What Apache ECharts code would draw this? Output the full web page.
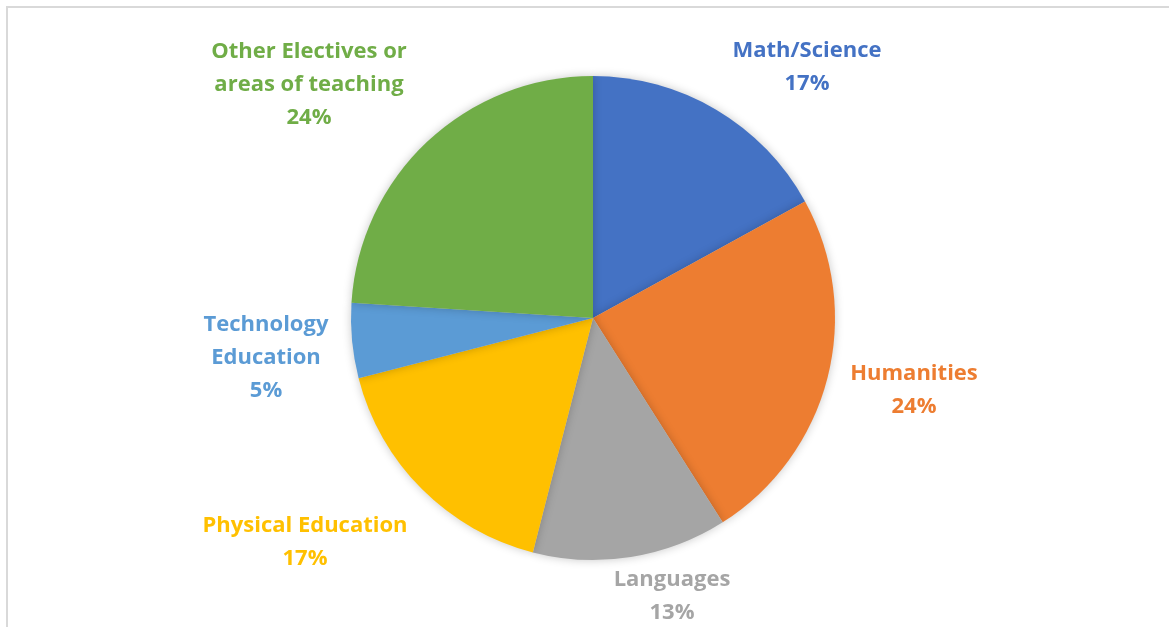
<!DOCTYPE html>
<html>
<head>
<meta charset="utf-8">
<title>Teaching areas</title>
<script src="https://cdn.jsdelivr.net/npm/echarts@6/dist/echarts.min.js"></script>
<style>
  html, body { margin: 0; padding: 0; background: #fff; }
  #chart { width: 1169px; height: 627px; }
</style>
</head>
<body>
<div id="chart"></div>
<script>
// Share of teachers by area of teaching (percent)
const categories = [
  'Math/Science',
  'Humanities',
  'Languages',
  'Physical Education',
  'Technology\nEducation',
  'Other Electives or\nareas of teaching'
];
const values = [17, 24, 13, 17, 5, 24];
const colors = ['#4472C4', '#ED7D31', '#A5A5A5', '#FFC000', '#5B9BD5', '#70AD47'];

// Label anchor points (label centres, in pixels)
const labelSpots = [
  [807, 67],
  [914, 390],
  [672, 596],
  [305, 542],
  [266, 358],
  [309, 85]
];

const chart = echarts.init(document.getElementById('chart'));
chart.setOption({
  animation: false,
  graphic: [{
    type: 'rect',
    shape: { x: 7, y: 7, width: 1200, height: 660 },
    style: { fill: 'none', stroke: '#d9d9d9', lineWidth: 2 },
    silent: true
  }],
  series: [{
    type: 'pie',
    center: [593, 318],
    radius: [0, 242],
    startAngle: 90,
    clockwise: true,
    data: categories.map((name, i) => ({
      name: name,
      value: values[i],
      itemStyle: { color: colors[i] },
      label: { color: colors[i] }
    })),
    itemStyle: {
      borderWidth: 0,
      shadowBlur: 10,
      shadowColor: 'rgba(0,0,0,0.22)',
      shadowOffsetY: 0
    },
    label: {
      show: true,
      position: 'outside',
      formatter: p => p.name + '\n' + p.value + '%',
      fontFamily: '"Open Sans"',
      fontWeight: 'bold',
      fontSize: 22,
      lineHeight: 33,
      align: 'center'
    },
    labelLine: { show: false },
    labelLayout: p => ({
      x: labelSpots[p.dataIndex][0],
      y: labelSpots[p.dataIndex][1],
      align: 'center',
      verticalAlign: 'middle'
    }),
    emphasis: { disabled: true }
  }]
});
</script>
</body>
</html>
